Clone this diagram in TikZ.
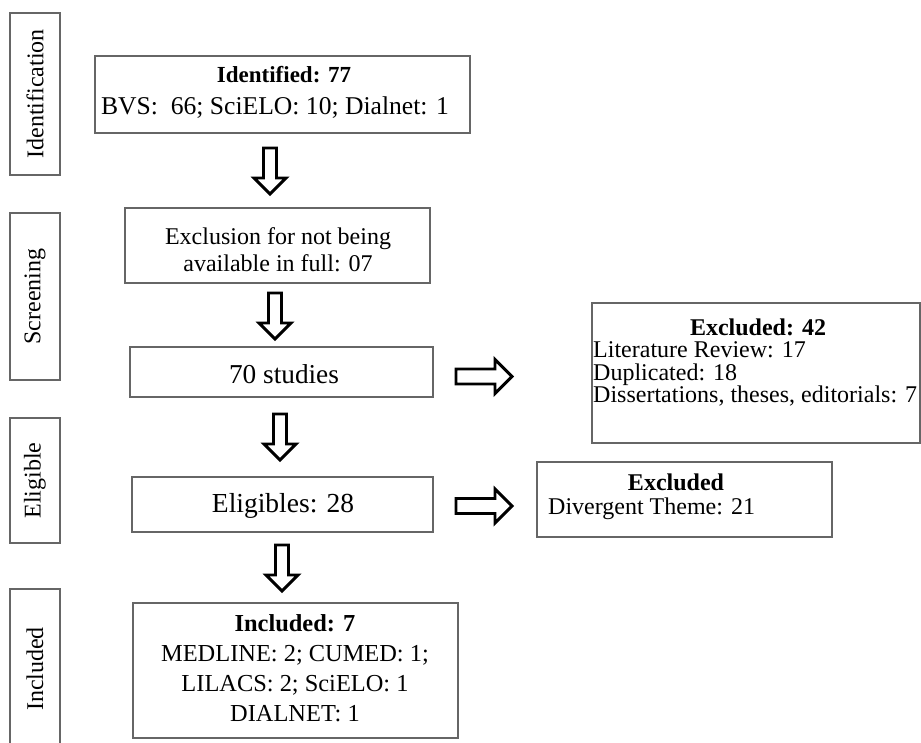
\documentclass[tikz,border=0pt]{standalone}
\usepackage{fontspec}
\setmainfont{Liberation Serif}
\newcommand\cstack[1]{\vtop{\halign{\hfil##\hfil\cr#1\crcr}}}
\newcommand\lstack[1]{\vtop{\halign{##\hfil\cr#1\crcr}}}
\begin{document}
\begin{tikzpicture}[x=1pt,y=-1pt,
  box/.style={draw=black!60, line width=1.1pt, inner sep=0pt},
  txt/.style={inner sep=0pt, font=\fontsize{24}{30}\selectfont},
  side/.style={box, rotate=90, minimum height=50, font=\fontsize{24}{28}\selectfont},
  arrowline/.style={draw=black, line width=2.9pt, line join=miter, fill=white},
  darr/.pic={\path[arrowline] (-6.5,0) -- (6.5,0) -- (6.5,30) -- (16,30) -- (0,46) -- (-16,30) -- (-6.5,30) -- cycle;},
  rarr/.pic={\path[arrowline] (0,-7.5) -- (39,-7.5) -- (39,-17) -- (56,0) -- (39,17) -- (39,7.5) -- (0,7.5) -- cycle;}]
\useasboundingbox (0,0) rectangle (921,743);
\fill[white] (0,0) rectangle (921,743);

% side labels
\node[side, minimum width=162] (sid) at (35,94) {Identification};
\node[side, minimum width=167] (sscr) at (35,296.5) {Screening};
\node[side, minimum width=125] (selig) at (35,480.5) {Eligible};
\node[side, minimum width=160] (sinc) at (35,669) {Included};

% main boxes
\node[box, minimum width=375, minimum height=77] (ident) at (282.5,94.5) {};
\node[txt, anchor=base, font=\fontsize{23}{32}\selectfont] (identh) at (284,83) {\textbf{Identified: 77}};
\node[txt, anchor=base, font=\fontsize{25.6}{32}\selectfont] (identt) at (275,115) {BVS:\ \ 66; SciELO: 10; Dialnet: 1};

\node[box, minimum width=305, minimum height=75] (excl) at (277.5,245.5) {};
\node[txt, anchor=base, font=\fontsize{24}{27}\selectfont] (exclt) at (278,245)
  {\cstack{Exclusion for not being\cr available in full: 07}};

\node[box, minimum width=303, minimum height=50] (stud) at (281.5,372) {};
\node[txt, anchor=base, font=\fontsize{27.3}{30}\selectfont] (studt) at (284,383) {70 studies};

\node[box, minimum width=301, minimum height=55] (elig) at (282.5,504.5) {};
\node[txt, anchor=base, font=\fontsize{27.5}{30}\selectfont] (eligt) at (283,512) {Eligibles: 28};

\node[box, minimum width=325, minimum height=135] (inc) at (295.5,670.5) {};
\node[txt, anchor=base, font=\fontsize{24.4}{30.3}\selectfont] (inct) at (295,631)
  {\cstack{\textbf{Included: 7}\cr MEDLINE: 2; CUMED: 1;\cr LILACS: 2; SciELO: 1\cr DIALNET: 1}};

% right boxes
\node[box, minimum width=328, minimum height=140] (ex42) at (756,373) {};
\node[txt, anchor=base] (ex42h) at (758,335) {\textbf{Excluded: 42}};
\node[txt, anchor=base west, font=\fontsize{24}{22.5}\selectfont] (ex42t) at (593,357.5)
  {\lstack{Literature Review: 17\cr Duplicated: 18\cr Dissertations, theses, editorials: 7}};

\node[box, minimum width=295, minimum height=75] (exd) at (684.5,499.5) {};
\node[txt, anchor=base] (exdh) at (676,490) {\textbf{Excluded}};
\node[txt, anchor=base west] (exdt) at (548,514) {Divergent Theme: 21};

% arrows
\pic (a1) at (270,148) {darr};
\pic (a2) at (275,293) {darr};
\pic (a3) at (280,414) {darr};
\pic (a4) at (282,545) {darr};
\pic (r1) at (456,376.5) {rarr};
\pic (r2) at (456,506) {rarr};
\end{tikzpicture}
\end{document}
